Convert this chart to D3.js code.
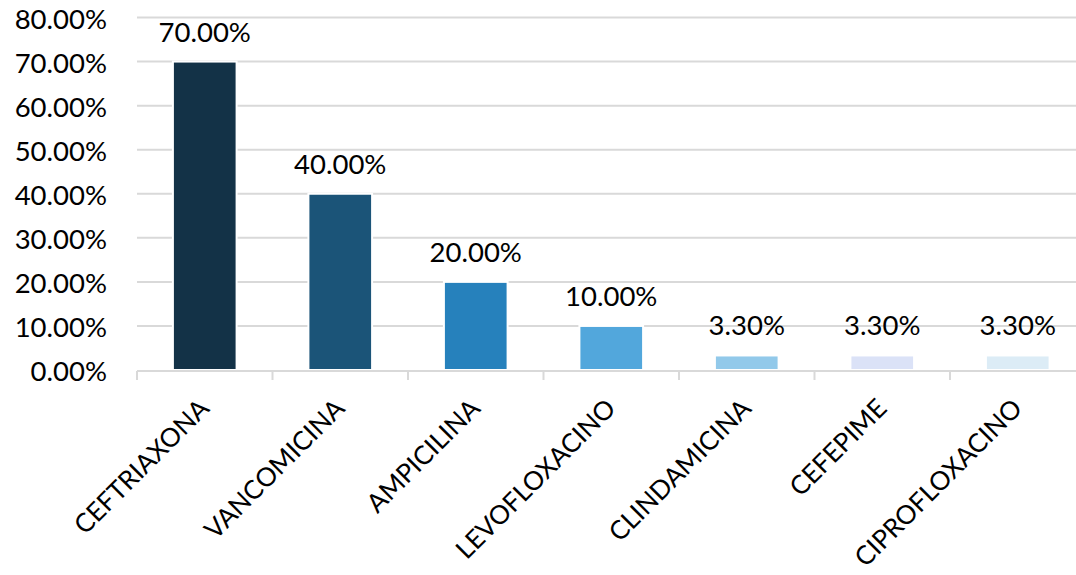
<!DOCTYPE html>
<html>
<head>
<meta charset="utf-8">
<script src="https://cdn.jsdelivr.net/npm/d3@7"></script>
<style>
html,body{margin:0;padding:0;background:#fff;}
svg{display:block;}
text{font-family:Lato,"Open Sans",sans-serif;fill:#000;}
</style>
</head>
<body>
<svg id="chart" width="1076" height="575"></svg>
<script>
const categories = ["CEFTRIAXONA","VANCOMICINA","AMPICILINA","LEVOFLOXACINO","CLINDAMICINA","CEFEPIME","CIPROFLOXACINO"];
const values = [0.70, 0.40, 0.20, 0.10, 0.033, 0.033, 0.033];
const valueLabels = ["70.00%","40.00%","20.00%","10.00%","3.30%","3.30%","3.30%"];
const colors = ["#133247","#1b5478","#2681bc","#52a7dc","#92c9ea","#dbe2f7","#dcecf6"];
const yTicks = [0,0.1,0.2,0.3,0.4,0.5,0.6,0.7,0.8];

(function () {
const svg = d3.select("#chart");
const mLeft = 137, mRight = 1085.5, mTop = 17.5, mBottom = 370;

const x = d3.scaleBand().domain(categories).range([mLeft, mRight]).paddingInner(0.53).paddingOuter(0.265);
const xb = d3.scaleBand().domain(categories).range([mLeft, mRight]);
const y = d3.scaleLinear().domain([0, 0.8]).range([mBottom, mTop]);

// gridlines
svg.append("g").selectAll("line").data(yTicks.filter(d => d > 0)).join("line")
  .attr("x1", mLeft).attr("x2", mRight)
  .attr("y1", d => y(d)).attr("y2", d => y(d))
  .attr("stroke", "#d9d9d9").attr("stroke-width", 2);

// y labels
svg.append("g").selectAll("text").data(yTicks).join("text")
  .attr("x", 107).attr("y", d => y(d) + 11)
  .attr("text-anchor", "end").attr("font-size", 27.5)
  .text(d => d3.format(".2%")(d));

// bars
svg.append("g").selectAll("rect").data(categories).join("rect")
  .attr("x", d => x(d))
  .attr("width", x.bandwidth())
  .attr("y", (d, i) => y(values[i]))
  .attr("height", (d, i) => mBottom - y(values[i]))
  .attr("fill", (d, i) => colors[i])
  .attr("stroke", "#fff").attr("stroke-width", 2);

// x axis line and ticks
const xAxis = svg.append("g");
xAxis.append("line").attr("x1", mLeft).attr("x2", mRight).attr("y1", mBottom + 1).attr("y2", mBottom + 1)
  .attr("stroke", "#d9d9d9").attr("stroke-width", 2);
const tickPos = categories.map(c => xb(c)).concat([mRight]);
xAxis.selectAll("line.tick").data(tickPos).join("line").attr("class", "tick")
  .attr("x1", d => d).attr("x2", d => d)
  .attr("y1", mBottom + 1).attr("y2", mBottom + 10)
  .attr("stroke", "#d9d9d9").attr("stroke-width", 2);

// data labels
svg.append("g").selectAll("text").data(categories).join("text")
  .attr("x", d => x(d) + x.bandwidth() / 2)
  .attr("y", (d, i) => y(values[i]) - 20)
  .attr("text-anchor", "middle").attr("font-size", 27.5)
  .text((d, i) => valueLabels[i]);

// category labels
svg.append("g").selectAll("text").data(categories).join("text")
  .attr("text-anchor", "end").attr("font-size", 26)
  .attr("transform", d => `translate(${xb(d) + xb.bandwidth() / 2 + 6},${mBottom + 40}) rotate(-45)`)
  .text(d => d);
})();
</script>
</body>
</html>
